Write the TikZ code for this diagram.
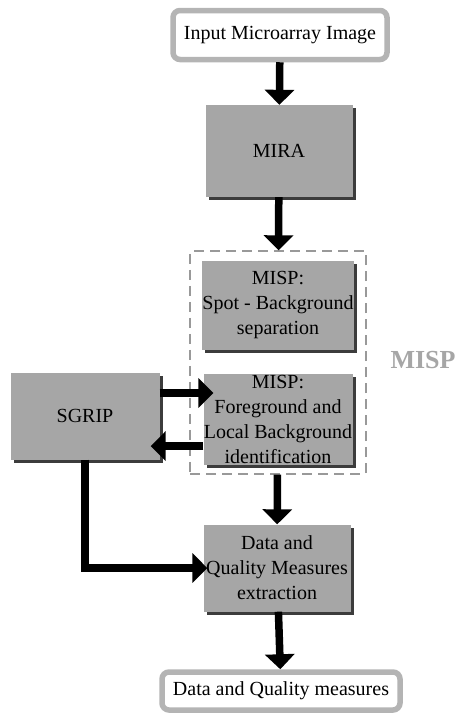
\documentclass[tikz,border=0pt]{standalone}
\usepackage{fontspec}
\setmainfont{Liberation Serif}
\usepackage{tikz}
\usetikzlibrary{arrows.meta, positioning, fit, shadows}

\definecolor{boxgray}{HTML}{A6A6A6}
\definecolor{edgegray}{HTML}{B4B4B4}
\definecolor{shadegray}{HTML}{3C3C3C}

\tikzset{
  stage/.style={fill=boxgray, align=center, inner sep=0pt,
    font=\fontsize{20}{25}\selectfont,
    drop shadow={shadow xshift=3pt, shadow yshift=-3pt, fill=shadegray, opacity=1}},
  terminal/.style={draw=edgegray, line width=5.5pt, fill=white, rounded corners=7pt,
    inner sep=0pt, font=\fontsize{20}{25}\selectfont},
  flow/.style={line width=7.5pt, -{Triangle[width=29pt, length=15pt]}}
}

\begin{document}
\begin{tikzpicture}[x=1pt, y=-1pt]
    \useasboundingbox (0,0) rectangle (459,715);

    \node[terminal, minimum width=214pt, minimum height=49pt] (input) at (280,35) {Input Microarray Image};
    \node[stage, minimum width=147pt, minimum height=92pt] (mira) at (279,151) {MIRA};

    \node[stage, minimum width=149pt, minimum height=89pt] (spot) at (278,305) {MISP:\\Spot - Background\\separation};
    \node[stage, minimum width=149pt, minimum height=91pt] (fgbg) at (278,419) {MISP:\\Foreground and\\Local Background\\identification};
    \node[draw=gray!80, dashed, line width=2pt, dash pattern=on 10pt off 6pt,
          inner xsep=12pt, inner ysep=9pt, fit=(spot)(fgbg)] (misp) {};
    \node[text=boxgray, font=\fontsize{26}{28}\selectfont\bfseries] (misplabel) at (423,360) {MISP};

    \node[stage, minimum width=149pt, minimum height=87pt] (sgrip) at (85,416) {SGRIP};

    \node[stage, minimum width=147pt, minimum height=87pt] (extract) at (277,568) {Data and\\Quality Measures\\extraction};
    \node[terminal, minimum width=238pt, minimum height=38pt] (output) at (281,691) {Data and Quality measures};

    \draw[flow] (input) -- (mira);
    \draw[flow] (mira) -- (misp);
    \draw[flow, shorten >=-10pt] ([yshift=23pt]sgrip.east) -- ([yshift=23pt]sgrip.east -| fgbg.west);
    \draw[flow, shorten >=-9pt] ([yshift=-27pt]fgbg.west) -- ([yshift=-27pt]fgbg.west -| sgrip.east);
    \draw[flow] (misp) -- (extract);
    \draw[flow, shorten >=-4pt] (sgrip.south) |- (extract.west);
    \draw[flow] (extract) -- (output);
\end{tikzpicture}
\end{document}
